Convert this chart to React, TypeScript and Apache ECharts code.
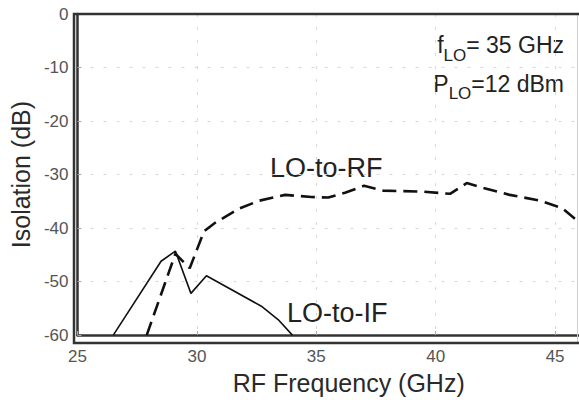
import React, { useEffect, useRef } from "react";
import * as echarts from "echarts";

const ifFreq = [26.5, 28.5, 29.1, 29.75, 30.4, 32.7, 33.4, 34.0];
const ifIso = [-60, -46.2, -44.3, -52.2, -48.9, -54.6, -57.1, -60];

const rfFreq = [27.9, 29.1, 29.7, 30.3, 30.8, 31.8, 32.6, 33.7, 34.8, 35.5, 36.2, 37.0, 37.8, 39.5, 40.6, 41.3, 42.0, 43.1, 44.4, 45.3, 46.0];
const rfIso = [-60, -44.8, -47.5, -40.6, -38.9, -36.3, -34.9, -33.8, -34.2, -34.3, -33.4, -32.1, -33.0, -33.2, -33.6, -31.6, -32.5, -33.8, -34.9, -36.3, -38.9];

const seriesNames = ["LO-to-IF", "LO-to-RF"];
const xName = "RF Frequency (GHz)";
const yName = "Isolation (dB)";

const FONT = 'Arial, "Liberation Sans", sans-serif';

export default function App() {
  const ref = useRef<HTMLDivElement>(null);
  useEffect(() => {
    if (!ref.current) return;
    const chart = echarts.init(ref.current, null, { renderer: "svg" });
    const gridLine = { show: true, showMinLine: false, showMaxLine: false, lineStyle: { color: "#d8d8d8", type: [3, 10], width: 1 } };
    chart.setOption({
      animation: false,
      backgroundColor: "#ffffff",
      grid: { left: 74, top: 14, right: 0, bottom: 57 },
      xAxis: {
        type: "value",
        min: 25,
        max: 46,
        interval: 5,
        name: xName,
        nameLocation: "middle",
        nameGap: 24,
        nameTextStyle: { fontSize: 25, color: "#2a2a2a", fontFamily: FONT, padding: [0, 0, 0, 41] },
        axisLine: { show: true, onZero: false, lineStyle: { color: "#333333", width: 2.5 } },
        axisTick: { show: true, inside: true, length: 4, lineStyle: { color: "#aaa" } },
        axisLabel: { showMaxLabel: false, fontSize: 17, color: "#555", fontFamily: FONT, margin: 13 },
        splitLine: gridLine,
      },
      yAxis: {
        type: "value",
        min: -60,
        max: 0,
        interval: 10,
        name: yName,
        nameLocation: "middle",
        nameGap: 40,
        nameTextStyle: { fontSize: 25, color: "#2a2a2a", fontFamily: FONT },
        axisLine: { show: true, onZero: false, lineStyle: { color: "#333333", width: 2.5 } },
        axisTick: { show: true, inside: true, length: 4, lineStyle: { color: "#aaa" } },
        axisLabel: { fontSize: 17, color: "#555", fontFamily: FONT, margin: 9 },
        splitLine: gridLine,
      },
      series: [
        {
          name: seriesNames[0],
          type: "line",
          data: ifFreq.map((x, i) => [x, ifIso[i]]),
          showSymbol: false,
          lineStyle: { color: "#111", width: 1.6, type: "solid" },
        },
        {
          name: seriesNames[1],
          type: "line",
          data: rfFreq.map((x, i) => [x, rfIso[i]]),
          showSymbol: false,
          lineStyle: { color: "#111", width: 2.6, type: [14, 7] },
        },
      ],
      graphic: [
        {
          type: "rect",
          z: 99,
          silent: true,
          shape: { x: 74, y: 14, width: 503.5, height: 329 },
          style: { fill: "none", stroke: "#cfcfcf", lineWidth: 1 },
        },
        {
          type: "rect",
          z: 100,
          silent: true,
          shape: { x: 74, y: 14, width: 520, height: 329 },
          style: { fill: "none", stroke: "#333333", lineWidth: 2.5 },
        },
        {
          type: "text",
          left: 270,
          top: 154,
          style: { text: seriesNames[1], fontSize: 27, fontFamily: FONT, fill: "#222" },
        },
        {
          type: "text",
          left: 287,
          top: 299,
          style: { text: seriesNames[0], fontSize: 27, fontFamily: FONT, fill: "#222" },
        },
        {
          type: "text",
          x: 564,
          y: 45,
          style: {
            text: "{m|f}{s|LO}{m|= 35 GHz}",
            align: "right",
            verticalAlign: "middle",
            rich: {
              m: { fontSize: 23, fontFamily: FONT, fill: "#222", color: "#222" },
              s: { fontSize: 17, fontFamily: FONT, fill: "#222", color: "#222", padding: [20, 0, 0, 0] },
            },
          },
        },
        {
          type: "text",
          x: 564,
          y: 84,
          style: {
            text: "{m|P}{s|LO}{m|=12 dBm}",
            align: "right",
            verticalAlign: "middle",
            rich: {
              m: { fontSize: 23, fontFamily: FONT, fill: "#222", color: "#222" },
              s: { fontSize: 17, fontFamily: FONT, fill: "#222", color: "#222", padding: [18, 0, 0, 0] },
            },
          },
        },
      ],
    });
    return () => chart.dispose();
  }, []);
  return <div ref={ref} style={{ position: "fixed", left: 0, top: 0, width: 579, height: 400, background: "#fff" }} />;
}
